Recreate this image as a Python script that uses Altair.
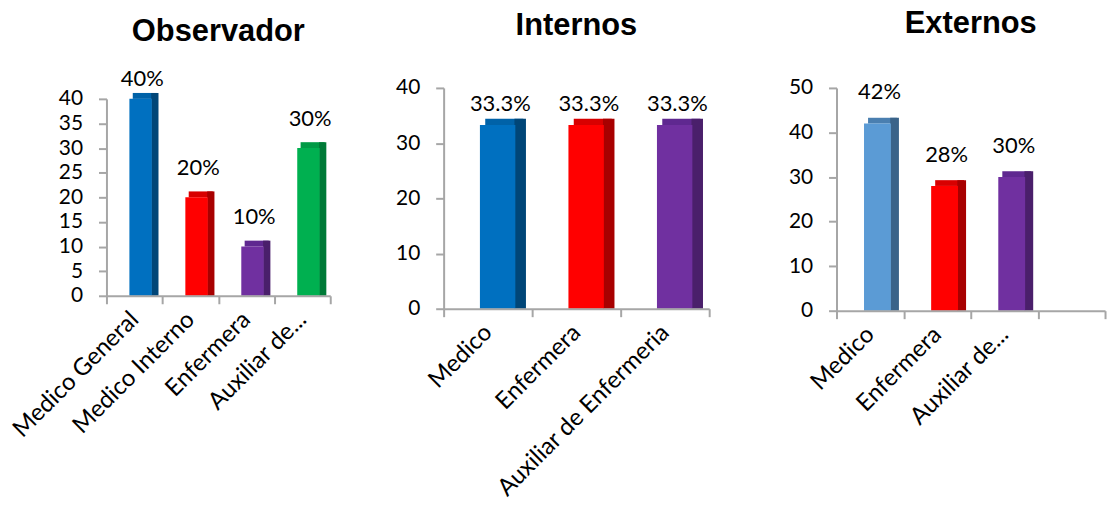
import altair as alt
import pandas as pd

# ---- data ----
obs_cats = ["Medico General", "Medico Interno", "Enfermera", "Auxiliar de..."]
obs_vals = [40, 20, 10, 30]
obs_labels = ["40%", "20%", "10%", "30%"]
obs_front = ["#0070C0", "#FF0000", "#7030A0", "#00B050"]
obs_top = ["#0062A8", "#D80000", "#5F2890", "#009A45"]
obs_side = ["#004678", "#A80000", "#4A1F6B", "#007A37"]

int_cats = ["Medico", "Enfermera", "Auxiliar de Enfermeria"]
int_vals = [33.3, 33.3, 33.3]
int_labels = ["33.3%", "33.3%", "33.3%"]
int_front = ["#0070C0", "#FF0000", "#7030A0"]
int_top = ["#0062A8", "#D80000", "#5F2890"]
int_side = ["#004678", "#A80000", "#4A1F6B"]

ext_cats = ["Medico", "Enfermera", "Auxiliar de..."]
ext_domain = ext_cats + [" "]
ext_vals = [42, 28, 30]
ext_labels = ["42%", "28%", "30%"]
ext_front = ["#5B9BD5", "#FF0000", "#7030A0"]
ext_top = ["#4A7FB0", "#D80000", "#5F2890"]
ext_side = ["#3A6389", "#A80000", "#4A1F6B"]

FONT = "Lato"
GRAY = "#A6A6A6"


def panel(cats, domain, vals, labels, front, top, side, ymax, step, title,
          w, h, top_gap, depth, lab_k, lab_cap, title_offset):
    df = pd.DataFrame({"cat": cats, "v": vals, "lab": labels,
                       "front": front, "topc": top, "side": side})
    xscale = alt.Scale(domain=domain, paddingInner=0, paddingOuter=0)
    yscale = alt.Scale(domain=[0, ymax], nice=False, range=[h, top_gap])
    base = alt.Chart(df).transform_calculate(
        top=f"datum.v + {depth}",
        ly=f"min(datum.v + {lab_k}, {lab_cap})",
    )
    xaxis = alt.Axis(title=None, labelAngle=-45, labelAlign="right",
                     labelBaseline="middle", labelFont=FONT, labelFontSize=24,
                     labelColor="#000000", tickBand="extent", domainColor=GRAY,
                     tickColor=GRAY, tickSize=8, labelPadding=12, labelLimit=0,
                     domainWidth=2, tickWidth=2)
    yaxis = alt.Axis(title=None, values=list(range(0, ymax + 1, step)),
                     labelFont=FONT, labelFontSize=21, labelColor="#000000",
                     labelOverlap=False, grid=False, domain=True,
                     domainColor=GRAY, tickColor=GRAY, tickSize=8,
                     domainWidth=2, tickWidth=2, labelPadding=16)

    def xenc(bp):
        return alt.X("cat:N", bandPosition=bp, scale=xscale, axis=xaxis, sort=domain)

    def yenc(f):
        return alt.Y(f, scale=yscale, axis=yaxis)

    top_face = base.mark_rect().encode(
        x=xenc(0.47), x2=alt.X2("cat", bandPosition=0.9),
        y=yenc("top:Q"), y2=alt.Y2("v:Q"),
        color=alt.Color("topc:N", scale=None),
    )
    side_bar = base.mark_rect().encode(
        x=xenc(0.80), x2=alt.X2("cat", bandPosition=0.93),
        y=yenc("top:Q"), y2=alt.datum(0),
        color=alt.Color("side:N", scale=None),
    )
    front_bar = base.mark_rect().encode(
        x=xenc(0.41), x2=alt.X2("cat", bandPosition=0.81),
        y=yenc("v:Q"), y2=alt.datum(0),
        color=alt.Color("front:N", scale=None),
    )
    text = base.mark_text(font=FONT, fontSize=22, color="#000000",
                          baseline="middle").encode(
        x=xenc(0.64), y=yenc("ly:Q"), text="lab:N",
    )
    return alt.layer(top_face, side_bar, front_bar, text).properties(
        width=w, height=h,
        title=alt.TitleParams(title, font="Liberation Sans", fontSize=31,
                              fontWeight="bold", color="#000000",
                              offset=title_offset, anchor="middle"),
    )


p1 = panel(obs_cats, obs_cats, obs_vals, obs_labels, obs_front, obs_top, obs_side,
           40, 5, "Observador", 225, 209, 11, 1.2, 6, 44, 20.5)
p2 = panel(int_cats, int_cats, int_vals, int_labels, int_front, int_top, int_side,
           40, 10, "Internos", 267, 222, 0, 1.1, 6, 37.1, 35)
p3 = panel(ext_cats, ext_domain, ext_vals, ext_labels, ext_front, ext_top, ext_side,
           50, 10, "Externos", 270, 224, 0, 1.3, 7, 52, 37)

chart = alt.hconcat(alt.hconcat(p1, p2, spacing=63), p3, spacing=78).configure_view(
    stroke=None
).properties(
    padding={"left": 0, "top": -1, "right": 5, "bottom": 5}
)

chart.save("out.html", embed_options={"renderer": "svg", "actions": False})
